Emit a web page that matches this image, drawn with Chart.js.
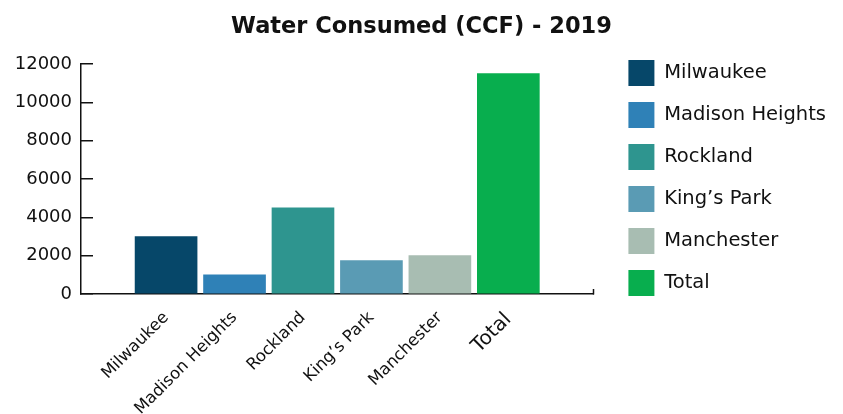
<!DOCTYPE html>
<html>
<head>
<meta charset="utf-8">
<script src="https://cdn.jsdelivr.net/npm/chart.js@4"></script>
<style>
  html, body { margin: 0; padding: 0; background: #fff; }
</style>
</head>
<body>
<canvas id="myChart" width="843" height="414"></canvas>
<script>
var categories = ['Milwaukee', 'Madison Heights', 'Rockland', 'King\u2019s Park', 'Manchester', 'Total'];
var consumed = [3000, 1000, 4500, 1750, 2000, 11500];
var barColors = ['#064769', '#2f81b7', '#2e958f', '#5a9bb4', '#a8bdb2', '#08ae4e'];
var yTicks = [0, 2000, 4000, 6000, 8000, 10000, 12000];

// bars sit on a linear index axis so the axis can run past the outer bars
var xMin = -1.243;
var xMax = categories.length - 1 + 1.243;

Chart.defaults.font.family = "'DejaVu Sans', sans-serif";
Chart.defaults.color = '#111';

// push the legend items a little further left
var widenLegend = {
    id: 'widenLegend',
    beforeInit: function (chart) {
        var origFit = chart.legend.fit;
        chart.legend.fit = function () {
            origFit.bind(chart.legend)();
            this.width += 7;
        };
    }
};

var ctx = document.getElementById('myChart').getContext('2d');

var myChart = new Chart(ctx, {
    type: 'bar',
    data: {
        datasets: [{
            label: 'Water Consumed (CCF)',
            data: consumed.map(function (v, i) { return { x: i, y: v }; }),
            backgroundColor: barColors,
            borderWidth: 0,
            barThickness: 62
        }]
    },
    plugins: [widenLegend],
    options: {
        responsive: false,
        animation: false,
        layout: { padding: 0 },
        plugins: {
            title: {
                display: true,
                text: 'Water Consumed (CCF) - 2019',
                color: '#111',
                font: { size: 22.5, weight: 'bold' },
                padding: { top: 14, bottom: 23 }
            },
            legend: {
                position: 'right',
                align: 'start',
                maxWidth: 400,
                title: {
                    display: true,
                    text: '',
                    padding: { top: 32, bottom: 0 },
                    font: { size: 12, lineHeight: 1 }
                },
                labels: {
                    boxWidth: 26,
                    boxHeight: 26,
                    padding: 16,
                    color: '#111',
                    font: { size: 19.5 },
                    generateLabels: function () {
                        return categories.map(function (c, i) {
                            return {
                                text: c,
                                fillStyle: barColors[i],
                                strokeStyle: barColors[i],
                                lineWidth: 0,
                                hidden: false,
                                index: i
                            };
                        });
                    }
                }
            },
            tooltip: { enabled: false }
        },
        scales: {
            x: {
                type: 'linear',
                min: xMin,
                max: xMax,
                offset: false,
                afterBuildTicks: function (scale) {
                    var t = categories.map(function (c, i) { return { value: i }; });
                    t.push({ value: xMax });
                    scale.ticks = t;
                },
                afterFit: function (scale) { scale.height = 120; },
                ticks: {
                    autoSkip: false,
                    minRotation: 45,
                    maxRotation: 45,
                    padding: 19,
                    color: '#111',
                    font: function (c) {
                        if (c.tick && c.tick.value === categories.length - 1) return { size: 20 };
                        return { size: 16.5 };
                    },
                    callback: function (value) {
                        return categories[value] !== undefined ? categories[value] : '';
                    }
                },
                grid: {
                    offset: false,
                    drawOnChartArea: false,
                    tickLength: -5,
                    tickWidth: 1.5,
                    tickColor: function (c) {
                        return c.tick && c.tick.value === xMax ? '#111' : 'rgba(0,0,0,0)';
                    }
                },
                border: { color: '#111', width: 1.5 }
            },
            y: {
                min: 0,
                max: 12000,
                afterBuildTicks: function (scale) {
                    scale.ticks = yTicks.map(function (v) { return { value: v }; });
                },
                afterFit: function (scale) { scale.width = 81; },
                ticks: {
                    padding: 21,
                    color: '#111',
                    font: { size: 18 },
                    callback: function (value) { return String(value); }
                },
                grid: {
                    drawOnChartArea: false,
                    tickLength: -12,
                    color: '#111',
                    lineWidth: 1.5
                },
                border: { color: '#111', width: 1.5 }
            },
            gap: {
                type: 'linear',
                position: 'right',
                display: true,
                ticks: { display: false },
                grid: { display: false },
                border: { display: false },
                afterFit: function (scale) { scale.width = 19; }
            }
        }
    }
});
</script>
</body>
</html>
